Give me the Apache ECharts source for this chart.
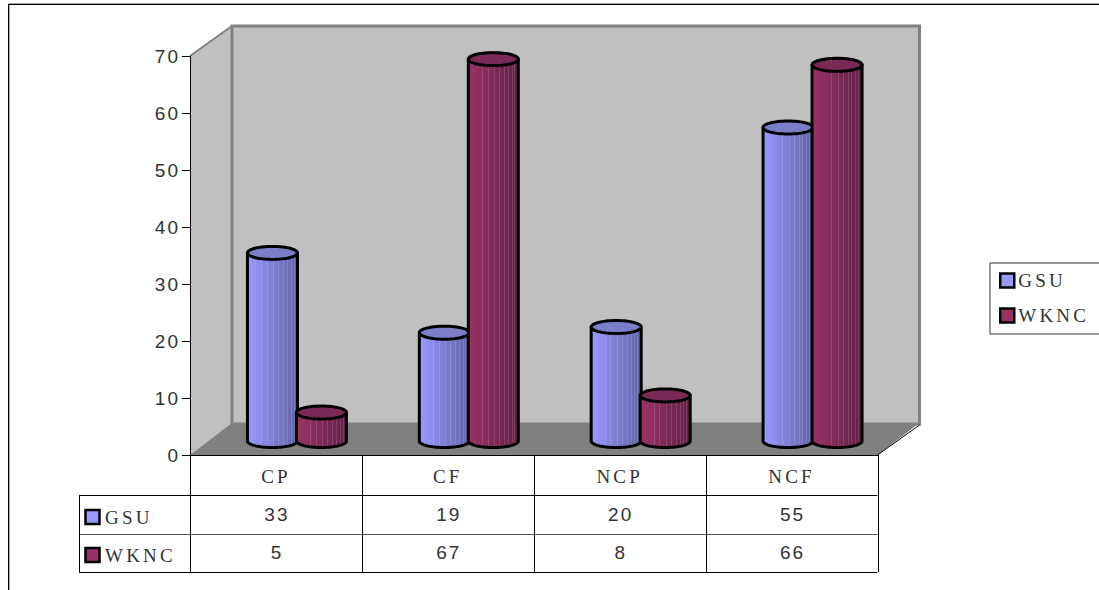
<!DOCTYPE html>
<html>
<head>
<meta charset="utf-8">
<style>
  html, body { margin: 0; padding: 0; background: #fff; }
  #chart { width: 1099px; height: 590px; }
  #chart svg text { letter-spacing: 2px; }
  #chart svg text[style*="Serif"], #chart svg text[font-family*="Serif"] { letter-spacing: 3.2px; }
</style>
<script src="https://cdn.jsdelivr.net/npm/echarts@6/dist/echarts.min.js"></script>
</head>
<body>
<div id="chart"></div>
<script>
// Survey counts per category for each station
const categories = ['CP', 'CF', 'NCP', 'NCF'];
const gsuValues = [33, 19, 20, 55];
const wkncValues = [5, 67, 8, 66];
const gsuName = 'GSU';
const wkncName = 'WKNC';

const NUM_FONT = '"Liberation Sans", sans-serif';
const TXT_FONT = '"Liberation Serif", serif';
const INK = '#333333';
const FONT_SIZE = 19;

// Depth of the pseudo-3D box, in pixels
const DEPTH_X = 42;
const DEPTH_Y = 31;
// Where a column's base sits inside that box
const COL_SHIFT_X = 21;
const COL_SHIFT_Y = 14;
const COL_RX = 25;
const COL_RY = 6.5;

const GSU_STYLE = { light: [153, 153, 255], dark: [100, 100, 168], cap: '#7a7ec8', swatch: '#9999ff' };
const WKNC_STYLE = { light: [153, 51, 102], dark: [100, 33, 72], cap: '#7a2a55', swatch: '#993366' };

// Left-to-right shading with a few thin pale ribs, as stepped colour stops
function ribbedStops(style) {
  const steps = 52;
  const ribs = { 14: 1, 20: 1, 27: 1, 32: 1, 37: 1, 41: 1, 45: 1, 48: 1 };
  const stops = [];
  for (let i = 0; i < steps; i++) {
    const k = i / (steps - 1);
    let c = style.light.map((v, n) => v + (style.dark[n] - v) * k);
    if (ribs[i]) c = c.map(v => v + (255 - v) * 0.13);
    const col = 'rgb(' + c.map(Math.round).join(',') + ')';
    stops.push({ offset: i / steps, color: col }, { offset: (i + 1) / steps, color: col });
  }
  return stops;
}

function ellipsePoints(cx, cy, rx, ry, from, to, count) {
  const pts = [];
  for (let i = 0; i <= count; i++) {
    const a = from + (to - from) * i / count;
    pts.push([cx + rx * Math.cos(a), cy + ry * Math.sin(a)]);
  }
  return pts;
}

function columnRenderer(style, offsetX) {
  const stops = ribbedStops(style);
  return function (params, api) {
    const base = api.coord([api.value(0), 0]);
    const top = api.coord([api.value(0), api.value(1)]);
    const cx = base[0] + COL_SHIFT_X + offsetX;
    const yBase = base[1] - COL_SHIFT_Y;
    const yTop = top[1] - COL_SHIFT_Y;
    const body = [[cx - COL_RX, yTop]]
      .concat(ellipsePoints(cx, yBase, COL_RX, COL_RY, Math.PI, 0, 40))
      .concat([[cx + COL_RX, yTop]]);
    const line = { stroke: '#000', lineWidth: 3, lineJoin: 'round' };
    return {
      type: 'group',
      children: [
        {
          type: 'polygon',
          shape: { points: body },
          style: Object.assign({ fill: new echarts.graphic.LinearGradient(0, 0, 1, 0, stops) }, line)
        },
        {
          type: 'polygon',
          shape: { points: ellipsePoints(cx, yTop, COL_RX, COL_RY, 0, Math.PI * 2, 60) },
          style: Object.assign({ fill: style.cap }, line)
        }
      ]
    };
  };
}

// Side wall, back wall and floor of the box behind the columns
function renderBox(params) {
  const g = params.coordSys;
  const L = g.x, R = g.x + g.width, T = g.y, B = g.y + g.height;
  return {
    type: 'group',
    children: [
      { type: 'polygon', shape: { points: [[L, B], [L, T], [L + DEPTH_X, T - DEPTH_Y + 1], [L + DEPTH_X, B - DEPTH_Y]] },
        style: { fill: '#c0c0c0' } },
      { type: 'rect', shape: { x: L + DEPTH_X, y: T - DEPTH_Y + 1, width: g.width, height: g.height - 1 },
        style: { fill: '#c0c0c0', stroke: '#808080', lineWidth: 3 } },
      { type: 'line', shape: { x1: L, y1: T, x2: L + DEPTH_X, y2: T - DEPTH_Y + 1 },
        style: { stroke: '#808080', lineWidth: 2 } },
      { type: 'polygon', shape: { points: [[L, B], [L + DEPTH_X, B - DEPTH_Y - 1], [R + DEPTH_X, B - DEPTH_Y - 1], [R, B]] },
        style: { fill: '#808080' } },
      { type: 'line', shape: { x1: R, y1: B, x2: R + DEPTH_X, y2: B - DEPTH_Y + 1 },
        style: { stroke: '#000', lineWidth: 1 } }
    ]
  };
}

// Data table under the plot: one row per station, one column per category
function renderTable(params, api) {
  const g = params.coordSys;
  const L = g.x, R = g.x + g.width, B = g.y + g.height;
  const headLeft = 79;
  const rowLines = [B + 40, B + 79, B + 117];
  const rows = [
    { name: gsuName, values: gsuValues, swatch: GSU_STYLE.swatch, y: B + 62, numY: B + 59.5 },
    { name: wkncName, values: wkncValues, swatch: WKNC_STYLE.swatch, y: B + 100, numY: B + 97.5 }
  ];
  const band = api.size([1, 0])[0];
  const seg = (x1, y1, x2, y2, color) => ({
    type: 'line', shape: { x1, y1, x2, y2 }, style: { stroke: color || '#000', lineWidth: 1 }
  });
  const kids = [];
  rowLines.forEach((y, i) => kids.push(seg(headLeft, y + 0.5, R, y + 0.5, i === 1 ? '#555' : '#000')));
  kids.push(seg(headLeft + 0.5, rowLines[0], headLeft + 0.5, rowLines[2]));
  categories.forEach((c, i) => {
    const x = Math.round(api.coord([i, 0])[0] - band / 2) + 0.5;
    kids.push(seg(x, B, x, rowLines[2]));
  });
  kids.push(seg(Math.round(R) + 0.5, B, Math.round(R) + 0.5, rowLines[2]));
  rows.forEach(row => {
    kids.push({ type: 'rect', shape: { x: 85.5, y: row.y - 7, width: 14, height: 14 },
      style: { fill: row.swatch, stroke: '#000', lineWidth: 2.5 } });
    kids.push({ type: 'text', style: { text: row.name, x: 105, y: row.y, align: 'left', verticalAlign: 'middle',
      fill: INK, font: FONT_SIZE + 'px ' + TXT_FONT } });
    row.values.forEach((v, i) => {
      kids.push({ type: 'text', style: { text: String(v), x: api.coord([i, 0])[0] + 1, y: row.numY, align: 'center',
        verticalAlign: 'middle', fill: INK, font: FONT_SIZE + 'px ' + NUM_FONT } });
    });
  });
  return { type: 'group', children: kids };
}

const chart = echarts.init(document.getElementById('chart'), null, { renderer: 'svg' });
chart.setOption({
  animation: false,
  backgroundColor: '#fff',
  grid: { left: 190, right: 221.5, top: 56, bottom: 135, containLabel: false },
  legend: {
    orient: 'vertical',
    left: 990,
    top: 263,
    padding: [8, 40, 9, 9],
    itemWidth: 14,
    itemHeight: 14,
    itemGap: 16,
    borderColor: '#333',
    borderWidth: 1,
    selectedMode: false,
    textStyle: { fontFamily: TXT_FONT, fontSize: FONT_SIZE, lineHeight: 14, color: INK, padding: [0, 0, 0, -1] },
    data: [
      { name: gsuName, icon: 'rect', itemStyle: { color: GSU_STYLE.swatch, borderColor: '#000', borderWidth: 2.5 } },
      { name: wkncName, icon: 'rect', itemStyle: { color: WKNC_STYLE.swatch, borderColor: '#000', borderWidth: 2.5 } }
    ]
  },
  xAxis: {
    type: 'category',
    data: categories,
    z: 5,
    axisLine: { lineStyle: { color: '#000', width: 1 } },
    axisTick: { show: false },
    axisLabel: { margin: 12, color: INK, fontFamily: TXT_FONT, fontSize: FONT_SIZE }
  },
  yAxis: {
    type: 'value',
    min: 0,
    max: 70,
    interval: 10,
    z: 5,
    splitLine: { show: false },
    axisLine: { show: true, lineStyle: { color: '#000', width: 1 } },
    axisTick: { show: true, length: 8, lineStyle: { color: '#000' } },
    axisLabel: { margin: 10, color: INK, fontFamily: NUM_FONT, fontSize: FONT_SIZE }
  },
  series: [
    { type: 'custom', name: 'box', silent: true, data: [[0, 0]], renderItem: renderBox, z: 1 },
    { type: 'custom', name: gsuName, silent: true, z: 2,
      data: gsuValues.map((v, i) => [i, v]), renderItem: columnRenderer(GSU_STYLE, -24.5),
      encode: { x: 0, y: 1 } },
    { type: 'custom', name: wkncName, silent: true, z: 3,
      data: wkncValues.map((v, i) => [i, v]), renderItem: columnRenderer(WKNC_STYLE, 24.5),
      encode: { x: 0, y: 1 } },
    { type: 'custom', name: 'table', silent: true, z: 4, data: [[0, 0]], renderItem: renderTable }
  ],
  graphic: [
    { type: 'line', shape: { x1: 8, y1: 3.5, x2: 1099, y2: 3.5 }, style: { stroke: '#aaa', lineWidth: 1 } },
    { type: 'line', shape: { x1: 8, y1: 4.5, x2: 1099, y2: 4.5 }, style: { stroke: '#000', lineWidth: 1 } },
    { type: 'line', shape: { x1: 8.5, y1: 4, x2: 8.5, y2: 590 }, style: { stroke: '#000', lineWidth: 1 } },
    { type: 'line', shape: { x1: 9.5, y1: 5, x2: 9.5, y2: 590 }, style: { stroke: '#aaa', lineWidth: 1 } }
  ]
});
</script>
</body>
</html>
